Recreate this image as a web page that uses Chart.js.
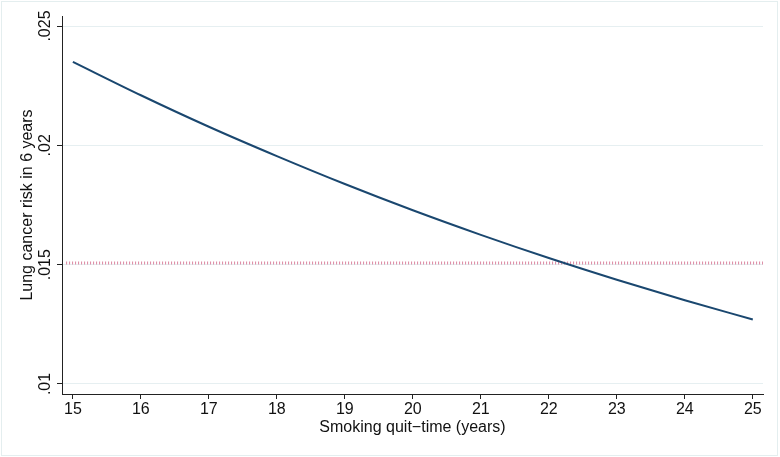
<!DOCTYPE html>
<html lang="en">
<head>
<meta charset="UTF-8" />
<title>Lung cancer risk by quit-time</title>
<script src="https://cdn.jsdelivr.net/npm/chart.js"></script>
<style>
* { box-sizing: border-box; }
html, body {
    margin: 0;
    padding: 0;
    background: #fff;
}
.wrap {
    position: relative;
    width: 780px;
    height: 457px;
}
</style>
</head>
<body>
<div class="wrap"><canvas id="riskChart"></canvas></div>
<script>
// values
const quitYears = [15, 16, 17, 18, 19, 20, 21, 22, 23, 24, 25];
const riskValues = [0.0235, 0.0221, 0.02078, 0.01955, 0.01838, 0.01728, 0.01625, 0.01528, 0.01437, 0.01351, 0.0127];
const refRisk = 0.01507;
const refStart = 14.9;
const xTicks = [15, 16, 17, 18, 19, 20, 21, 22, 23, 24, 25];
const yTicks = [0.01, 0.015, 0.02, 0.025];
const xMin = 14.84, xMax = 25.15;
const yMin = 0.00958, yMax = 0.02542;
const xTitle = 'Smoking quit\u2212time (years)';
const yTitle = 'Lung cancer risk in 6 years';

const FONT = '"Liberation Sans", Arial, Helvetica, sans-serif';
const AXIS = '#222';
const GRID = '#e6eff1';

// stata-ish text: rotated y labels, axis titles, outer frame
const stataText = {
    id: 'stataText',
    beforeDraw(chart) {
        const ctx = chart.ctx;
        ctx.save();
        ctx.fillStyle = '#fff';
        ctx.fillRect(0, 0, chart.width, chart.height);
        ctx.strokeStyle = '#e4eeef';
        ctx.lineWidth = 1;
        ctx.strokeRect(1.5, 1.5, chart.width - 4, chart.height - 3);
        ctx.restore();
    },
    afterDraw(chart) {
        const { ctx, chartArea, scales } = chart;
        ctx.save();
        ctx.fillStyle = '#111';
        ctx.font = '16px ' + FONT;
        ctx.textAlign = 'center';
        ctx.textBaseline = 'alphabetic';
        yTicks.forEach(v => {
            const y = scales.y.getPixelForValue(v);
            ctx.save();
            ctx.translate(50, y);
            ctx.rotate(-Math.PI / 2);
            ctx.fillText(String(v).replace(/^0/, ''), 0, 0);
            ctx.restore();
        });
        ctx.save();
        ctx.translate(32, (chartArea.top + chartArea.bottom) / 2);
        ctx.rotate(-Math.PI / 2);
        ctx.fillText(yTitle, 0, 0);
        ctx.restore();
        ctx.fillText(xTitle, (chartArea.left + chartArea.right) / 2, 432);
        ctx.restore();
    }
};

const ctx = document.getElementById('riskChart').getContext('2d');
new Chart(ctx, {
    type: 'line',
    data: {
        datasets: [
            {
                label: 'risk',
                data: quitYears.map((x, i) => ({ x: x, y: riskValues[i] })),
                borderColor: '#1a476f',
                borderWidth: 2,
                pointRadius: 0,
                cubicInterpolationMode: 'monotone',
                fill: false
            },
            {
                label: 'reference',
                data: [{ x: refStart, y: refRisk }, { x: xMax, y: refRisk }],
                borderColor: 'rgba(200, 70, 110, 0.65)',
                borderWidth: 3,
                borderDash: [1, 2],
                pointRadius: 0,
                fill: false
            }
        ]
    },
    options: {
        responsive: true,
        maintainAspectRatio: false,
        animation: false,
        layout: { padding: { top: 16, right: 17, left: 0, bottom: 0 } },
        plugins: {
            legend: { display: false },
            tooltip: { enabled: false }
        },
        scales: {
            x: {
                type: 'linear',
                min: xMin,
                max: xMax,
                afterBuildTicks: s => { s.ticks = xTicks.map(v => ({ value: v })); },
                afterFit: s => { s.height = 63; },
                grid: { drawOnChartArea: false, color: AXIS, tickColor: AXIS, tickLength: 5 },
                border: { display: true, color: AXIS, width: 1 },
                ticks: {
                    color: '#111',
                    font: { family: FONT, size: 16 },
                    padding: 1,
                    maxRotation: 0,
                    autoSkip: false
                }
            },
            y: {
                type: 'linear',
                min: yMin,
                max: yMax,
                afterBuildTicks: s => { s.ticks = yTicks.map(v => ({ value: v })); },
                afterFit: s => { s.width = 62; },
                grid: { color: GRID, tickColor: AXIS, tickLength: 5 },
                border: { display: true, color: AXIS, width: 1 },
                ticks: { display: false }
            }
        }
    },
    plugins: [stataText]
});
</script>
</body>
</html>
